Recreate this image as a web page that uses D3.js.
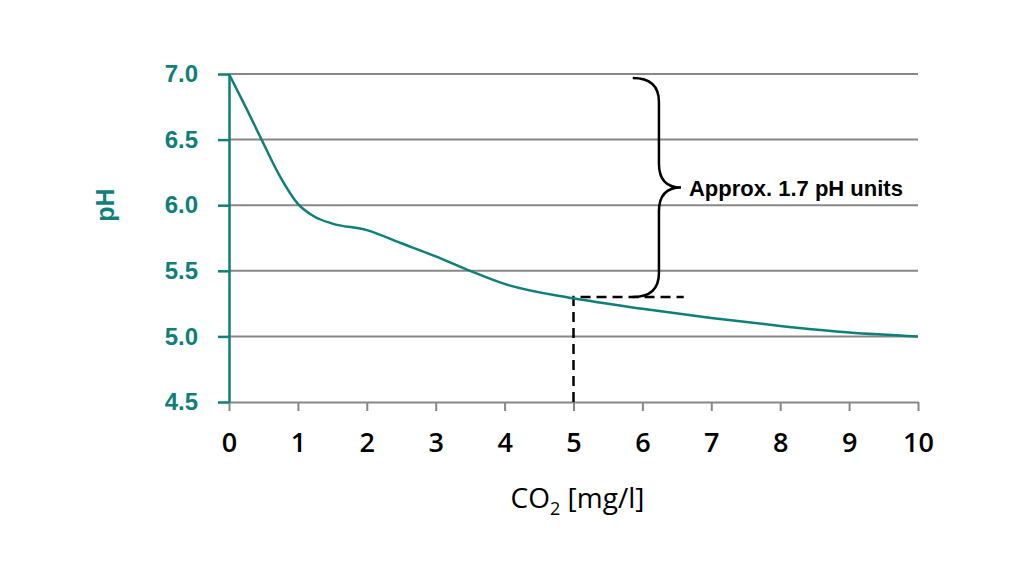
<!DOCTYPE html>
<html>
<head>
<meta charset="utf-8">
<script src="https://cdn.jsdelivr.net/npm/d3@7"></script>
<style>
  body { margin: 0; background: #fff; }
</style>
</head>
<body>
<svg id="chart" width="1022" height="575"></svg>
<script>
// curve values
var co2 = [0, 0.25, 0.5, 0.75, 1, 1.25, 1.5, 2, 2.5, 3, 3.5, 4, 5, 6, 7, 8, 9, 10];
var ph  = [7.0, 6.74, 6.47, 6.21, 6.01, 5.91, 5.86, 5.81, 5.71, 5.61, 5.5, 5.4, 5.29, 5.21, 5.14, 5.08, 5.03, 5.0];
var xTicks = [0, 1, 2, 3, 4, 5, 6, 7, 8, 9, 10];
var yTicks = [4.5, 5.0, 5.5, 6.0, 6.5, 7.0];
var markX = 5, markPh = 5.3;
var braceTop = 6.97;
var label = 'Approx. 1.7 pH units';

var teal = '#0e7f79', grid = '#878787';
var svg = d3.select('#chart');

var x = d3.scaleLinear().domain([0, 10]).range([229, 918]);
var y = d3.scaleLinear().domain([4.5, 7.0]).range([402, 74]);

// gridlines
svg.append('g')
    .selectAll('line')
    .data(yTicks.slice(1))
    .enter()
    .append('line')
    .attr('x1', x(0)).attr('x2', x(10))
    .attr('y1', function(d) { return y(d); })
    .attr('y2', function(d) { return y(d); })
    .attr('stroke', grid)
    .attr('stroke-width', 2);

// x axis
var xAxis = svg.append('g')
    .attr('transform', 'translate(0,' + y(4.5) + ')')
    .call(d3.axisBottom(x).tickValues(xTicks).tickSize(9).tickSizeOuter(0).tickPadding(22));
xAxis.select('.domain').attr('stroke', grid).attr('stroke-width', 2);
xAxis.selectAll('.tick line').attr('stroke', grid).attr('stroke-width', 2);
xAxis.selectAll('text')
    .attr('fill', '#000')
    .style('font-family', '"Open Sans", sans-serif')
    .style('font-size', '27px')
    .style('font-weight', '600');

// y axis
var yAxis = svg.append('g')
    .attr('transform', 'translate(' + x(0) + ',0)')
    .call(d3.axisLeft(y).tickValues(yTicks).tickFormat(d3.format('.1f')).tickSize(11).tickSizeOuter(0).tickPadding(20));
yAxis.select('.domain').attr('stroke', teal).attr('stroke-width', 2.5);
yAxis.selectAll('.tick line').attr('stroke', teal).attr('stroke-width', 2.5);
yAxis.selectAll('text')
    .attr('fill', teal)
    .style('font-family', '"Liberation Sans", Arial, sans-serif')
    .style('font-size', '24px')
    .style('font-weight', 'bold');

// axis titles
svg.append('text')
    .attr('transform', 'translate(114,' + y(6.0) + ') rotate(-90)')
    .attr('text-anchor', 'middle')
    .attr('fill', teal)
    .style('font-family', '"Liberation Sans", Arial, sans-serif')
    .style('font-size', '25px')
    .style('font-weight', 'bold')
    .text('pH');

var xt = svg.append('text')
    .attr('x', x(5) + 4)
    .attr('y', 508)
    .attr('text-anchor', 'middle')
    .attr('fill', '#000')
    .style('font-family', '"Open Sans", sans-serif')
    .style('font-size', '28px');
xt.append('tspan').text('CO');
xt.append('tspan').attr('dy', 7).style('font-size', '18px').text('2');
xt.append('tspan').attr('dy', -7).text(' [mg/l]');

// dashed marker lines
svg.append('path')
    .attr('d', 'M' + x(markX) + ',' + y(4.5) + 'V' + y(markPh) + 'H' + x(6.6))
    .attr('fill', 'none')
    .attr('stroke', '#000')
    .attr('stroke-width', 2.5)
    .attr('stroke-dasharray', '10 6');

// curve
var line = d3.line()
    .x(function(d, i) { return x(co2[i]); })
    .y(function(d) { return y(d); })
    .curve(d3.curveMonotoneX);
svg.append('path')
    .attr('d', line(ph))
    .attr('fill', 'none')
    .attr('stroke', teal)
    .attr('stroke-width', 2.5);

// brace
var bl = x(5.86), bm = x(6.24), bt = x(6.56);
var yt = y(braceTop), yb = y(markPh), ym = (yt + yb) / 2, r = 24;
var brace = 'M' + bl + ',' + yt +
    'Q' + bm + ',' + yt + ' ' + bm + ',' + (yt + r) +
    'L' + bm + ',' + (ym - r) +
    'Q' + bm + ',' + ym + ' ' + bt + ',' + ym +
    'Q' + bm + ',' + ym + ' ' + bm + ',' + (ym + r) +
    'L' + bm + ',' + (yb - r) +
    'Q' + bm + ',' + yb + ' ' + bl + ',' + yb;
svg.append('path')
    .attr('d', brace)
    .attr('fill', 'none')
    .attr('stroke', '#000')
    .attr('stroke-width', 2.5);

svg.append('text')
    .attr('x', bt + 8)
    .attr('y', ym + 9)
    .attr('fill', '#000')
    .style('font-family', '"Liberation Sans", Arial, sans-serif')
    .style('font-size', '22px')
    .style('font-weight', 'bold')
    .text(label);
</script>
</body>
</html>
